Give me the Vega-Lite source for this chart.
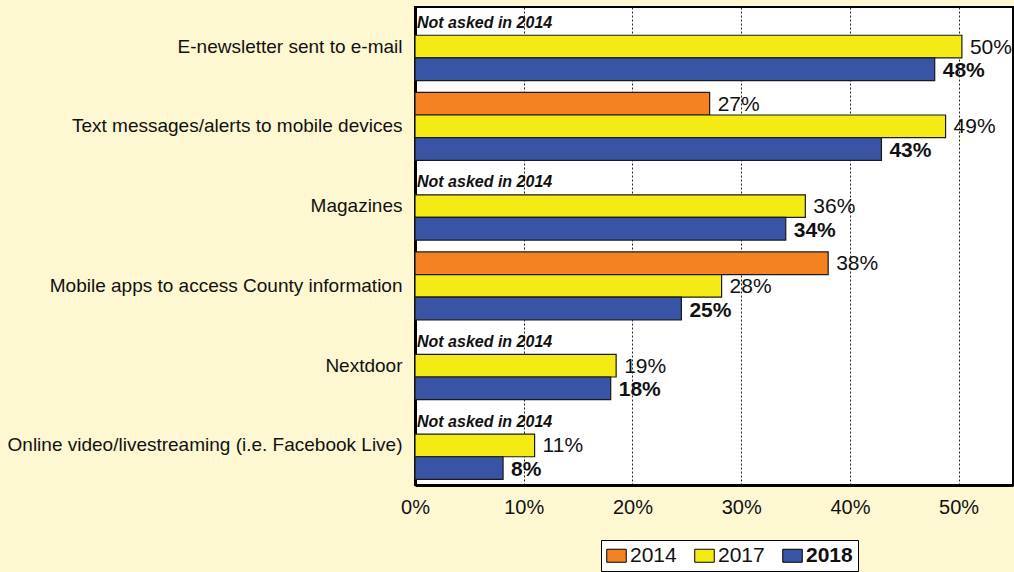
{
  "$schema": "https://vega.github.io/schema/vega-lite/v6.json",
  "width": 598,
  "height": 478,
  "autosize": {"type": "none"},
  "padding": {"left": 415, "top": 7, "right": 1, "bottom": 87},
  "background": "#fdf8d2",
  "config": {
    "font": "Liberation Sans",
    "view": {"fill": "white", "stroke": "black", "strokeWidth": 2}
  },
  "data": {
    "values": [
      {"cat": "E-newsletter sent to e-mail", "year": "2014", "value": null, "label": "", "note": "Not asked in 2014"},
      {"cat": "E-newsletter sent to e-mail", "year": "2017", "value": 0.503, "label": "50%", "note": ""},
      {"cat": "E-newsletter sent to e-mail", "year": "2018", "value": 0.478, "label": "48%", "note": ""},
      {"cat": "Text messages/alerts to mobile devices", "year": "2014", "value": 0.271, "label": "27%", "note": ""},
      {"cat": "Text messages/alerts to mobile devices", "year": "2017", "value": 0.488, "label": "49%", "note": ""},
      {"cat": "Text messages/alerts to mobile devices", "year": "2018", "value": 0.429, "label": "43%", "note": ""},
      {"cat": "Magazines", "year": "2014", "value": null, "label": "", "note": "Not asked in 2014"},
      {"cat": "Magazines", "year": "2017", "value": 0.359, "label": "36%", "note": ""},
      {"cat": "Magazines", "year": "2018", "value": 0.341, "label": "34%", "note": ""},
      {"cat": "Mobile apps to access County information", "year": "2014", "value": 0.38, "label": "38%", "note": ""},
      {"cat": "Mobile apps to access County information", "year": "2017", "value": 0.282, "label": "28%", "note": ""},
      {"cat": "Mobile apps to access County information", "year": "2018", "value": 0.245, "label": "25%", "note": ""},
      {"cat": "Nextdoor", "year": "2014", "value": null, "label": "", "note": "Not asked in 2014"},
      {"cat": "Nextdoor", "year": "2017", "value": 0.185, "label": "19%", "note": ""},
      {"cat": "Nextdoor", "year": "2018", "value": 0.18, "label": "18%", "note": ""},
      {"cat": "Online video/livestreaming (i.e. Facebook Live)", "year": "2014", "value": null, "label": "", "note": "Not asked in 2014"},
      {"cat": "Online video/livestreaming (i.e. Facebook Live)", "year": "2017", "value": 0.11, "label": "11%", "note": ""},
      {"cat": "Online video/livestreaming (i.e. Facebook Live)", "year": "2018", "value": 0.081, "label": "8%", "note": ""}
    ]
  },
  "encoding": {
    "y": {
      "field": "cat",
      "type": "nominal",
      "sort": null,
      "scale": {"paddingInner": 0.148, "paddingOuter": 0.07},
      "axis": {
        "title": null,
        "ticks": false,
        "labelFontSize": 19,
        "labelColor": "#111",
        "labelPadding": 13,
        "labelLimit": 600,
        "domainColor": "black",
        "domainWidth": 3
      }
    },
    "yOffset": {
      "field": "year",
      "type": "nominal",
      "scale": {"domain": ["2014", "2017", "2018"], "paddingInner": 0, "paddingOuter": 0}
    }
  },
  "layer": [
    {
      "mark": {"type": "bar", "stroke": "#1a1a1a", "strokeWidth": 1.2},
      "transform": [{"filter": "isValid(datum.value)"}],
      "encoding": {
        "x": {
          "field": "value",
          "type": "quantitative",
          "scale": {"domain": [0, 0.55], "nice": false},
          "axis": {
            "title": null,
            "values": [0, 0.1, 0.2, 0.3, 0.4, 0.5],
            "format": ".0%",
            "ticks": false,
            "labelFlush": false,
            "labelFontSize": 20,
            "labelColor": "#111",
            "labelPadding": 12,
            "domainColor": "black",
            "domainWidth": 3,
            "grid": true,
            "gridColor": "#222",
            "gridDash": [2, 2],
            "gridWidth": 1
          }
        },
        "color": {
          "field": "year",
          "type": "nominal",
          "scale": {"domain": ["2014", "2017", "2018"], "range": ["#f58221", "#f5eb14", "#3953a5"]},
          "legend": {
            "title": null,
            "orient": "none",
            "legendX": 186,
            "legendY": 533,
            "direction": "horizontal",
            "strokeColor": "black",
            "fillColor": "white",
            "padding": 5,
            "columnPadding": 15,
            "labelFontSize": 21,
            "labelColor": "#111",
            "labelOffset": 3,
            "symbolType": "M-1.5,-1H1.5V1H-1.5Z",
            "symbolSize": 169,
            "symbolStrokeColor": "black",
            "symbolStrokeWidth": 1,
            "encode": {
              "labels": {
                "update": {"fontWeight": {"signal": "datum.label === '2018' ? 'bold' : 'normal'"}}
              }
            }
          }
        }
      }
    },
    {
      "mark": {"type": "text", "align": "left", "baseline": "middle", "dx": 8, "dy": 1, "fontSize": 21, "color": "#111"},
      "transform": [{"filter": "isValid(datum.value) && datum.year !== '2018'"}],
      "encoding": {
        "x": {"field": "value", "type": "quantitative"},
        "text": {"field": "label"}
      }
    },
    {
      "mark": {"type": "text", "align": "left", "baseline": "middle", "dx": 8, "dy": 2, "fontSize": 21, "fontWeight": "bold", "color": "#111"},
      "transform": [{"filter": "isValid(datum.value) && datum.year === '2018'"}],
      "encoding": {
        "x": {"field": "value", "type": "quantitative"},
        "text": {"field": "label"}
      }
    },
    {
      "mark": {"type": "text", "align": "left", "baseline": "middle", "dx": 2, "dy": -1, "fontSize": 16, "fontWeight": "bold", "fontStyle": "italic", "color": "#111"},
      "transform": [{"filter": "datum.note !== ''"}],
      "encoding": {
        "x": {"datum": 0, "type": "quantitative"},
        "text": {"field": "note"}
      }
    }
  ]
}
